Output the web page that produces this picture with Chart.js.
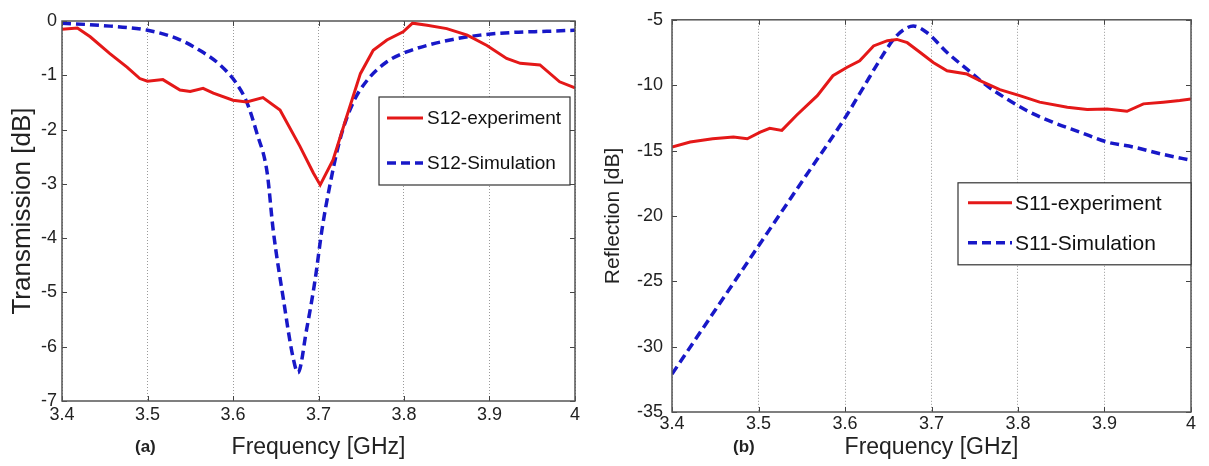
<!DOCTYPE html>
<html>
<head>
<meta charset="utf-8">
<script src="https://cdn.jsdelivr.net/npm/chart.js@4.4.1/dist/chart.umd.min.js"></script>
<style>
html, body { margin: 0; padding: 0; background: #fff; }
#wrap { position: relative; width: 1209px; height: 466px; overflow: hidden; font-family: "Liberation Sans", Arial, sans-serif; }
.panel { position: absolute; top: 0; height: 466px; }
.tag { position: absolute; font-size: 17px; font-weight: bold; color: #222; }
</style>
</head>
<body>
<div id="wrap">
  <div class="panel" style="left:0;width:595px"><canvas id="chartA"></canvas></div>
  <div class="panel" style="left:595px;width:614px"><canvas id="chartB"></canvas></div>
  <div class="tag" style="left:135px;top:437px">(a)</div>
  <div class="tag" style="left:733px;top:437px">(b)</div>
</div>
<script>
// (a) transmission
const s12ExpFreq = [3.400,3.418,3.433,3.456,3.476,3.491,3.500,3.518,3.538,3.550,3.565,3.577,3.600,3.616,3.635,3.655,3.678,3.694,3.702,3.717,3.733,3.749,3.764,3.780,3.799,3.810,3.827,3.850,3.874,3.897,3.920,3.936,3.959,3.982,4.000];
const s12ExpDb   = [-0.15,-0.13,-0.29,-0.60,-0.85,-1.06,-1.11,-1.08,-1.27,-1.30,-1.24,-1.33,-1.46,-1.49,-1.41,-1.64,-2.30,-2.80,-3.02,-2.56,-1.76,-0.97,-0.54,-0.35,-0.20,-0.04,-0.08,-0.14,-0.26,-0.45,-0.69,-0.78,-0.81,-1.12,-1.23];
const s12SimFreq = [3.400,3.444,3.500,3.534,3.561,3.585,3.604,3.616,3.628,3.640,3.647,3.659,3.670,3.676,3.686,3.696,3.704,3.713,3.725,3.740,3.757,3.780,3.803,3.827,3.857,3.889,3.928,3.967,4.000];
const s12SimDb   = [-0.04,-0.08,-0.17,-0.32,-0.54,-0.81,-1.15,-1.49,-2.07,-2.80,-3.85,-5.13,-6.18,-6.48,-5.69,-4.77,-3.85,-3.05,-2.19,-1.52,-1.09,-0.75,-0.57,-0.45,-0.34,-0.26,-0.21,-0.19,-0.17];

// (b) reflection
const s11ExpFreq = [3.400,3.421,3.447,3.471,3.487,3.502,3.513,3.527,3.544,3.568,3.586,3.602,3.617,3.633,3.649,3.660,3.672,3.687,3.702,3.718,3.741,3.756,3.779,3.802,3.825,3.857,3.880,3.903,3.926,3.945,3.968,3.987,4.000];
const s11ExpDb   = [-14.73,-14.35,-14.10,-13.97,-14.10,-13.60,-13.30,-13.46,-12.30,-10.80,-9.28,-8.65,-8.14,-7.00,-6.60,-6.50,-6.75,-7.50,-8.27,-8.90,-9.15,-9.66,-10.34,-10.80,-11.30,-11.69,-11.86,-11.82,-12.00,-11.43,-11.30,-11.18,-11.05];
const s11SimFreq = [3.400,3.450,3.500,3.550,3.600,3.621,3.640,3.656,3.667,3.679,3.695,3.718,3.741,3.764,3.787,3.810,3.840,3.872,3.903,3.933,3.968,4.000];
const s11SimDb   = [-32.10,-27.20,-22.30,-17.40,-12.50,-10.20,-8.10,-6.50,-5.80,-5.48,-5.99,-7.50,-8.78,-10.04,-11.05,-11.94,-12.83,-13.60,-14.35,-14.73,-15.30,-15.74];

const freqMin = 3.4, freqMax = 4.0, freqStep = 0.1;

Chart.defaults.font.family = '"Liberation Sans", Arial, sans-serif';
Chart.defaults.color = '#222';

const RED = 'rgb(228, 24, 24)';
const BLUE = 'rgb(24, 24, 200)';

function toPoints(xs, ys) {
  return xs.map((x, i) => ({ x: x, y: ys[i] }));
}

// box round the axes, inward ticks (matlab style) and the legend inside the plot
const frame = {
  id: 'frame',
  afterDatasetsDraw(chart, args, opts) {
    const { ctx, chartArea: a, scales } = chart;
    const sx = scales.x, sy = scales.y;
    ctx.save();
    ctx.strokeStyle = '#444';
    ctx.lineWidth = 1;
    ctx.beginPath();
    sx.ticks.forEach(t => {
      const px = Math.round(sx.getPixelForValue(t.value)) + 0.5;
      ctx.moveTo(px, a.bottom); ctx.lineTo(px, a.bottom - 5);
      ctx.moveTo(px, a.top); ctx.lineTo(px, a.top + 5);
    });
    sy.ticks.forEach(t => {
      const py = Math.round(sy.getPixelForValue(t.value)) + 0.5;
      ctx.moveTo(a.left, py); ctx.lineTo(a.left + 5, py);
      ctx.moveTo(a.right, py); ctx.lineTo(a.right - 5, py);
    });
    ctx.stroke();
    ctx.strokeStyle = '#555';
    ctx.lineWidth = 1.5;
    ctx.strokeRect(a.left, a.top, a.right - a.left, a.bottom - a.top);

    // legend
    const b = opts.box;
    const bx = a.left + b.x, by = a.top + b.y;
    ctx.fillStyle = '#fff';
    ctx.fillRect(bx, by, b.w, b.h);
    ctx.strokeStyle = '#333';
    ctx.lineWidth = 1.2;
    ctx.strokeRect(bx, by, b.w, b.h);
    ctx.font = b.font + 'px "Liberation Sans", Arial, sans-serif';
    ctx.textBaseline = 'middle';
    chart.data.datasets.forEach((ds, i) => {
      const ry = by + b.rows[i];
      ctx.strokeStyle = ds.borderColor;
      ctx.lineWidth = ds.borderWidth;
      ctx.setLineDash(ds.borderDash || []);
      ctx.beginPath();
      ctx.moveTo(bx + b.line[0], ry);
      ctx.lineTo(bx + b.line[1], ry);
      ctx.stroke();
      ctx.setLineDash([]);
      ctx.fillStyle = '#111';
      ctx.fillText(ds.label, bx + b.textX, ry + 1);
    });
    ctx.restore();
  }
};

function makeChart(id, sets, cfg) {
  return new Chart(document.getElementById(id), {
    type: 'line',
    plugins: [frame],
    data: {
      datasets: sets.map(s => ({
        label: s.label,
        data: s.data,
        borderColor: s.color,
        borderWidth: s.width,
        borderDash: s.dash,
        pointRadius: 0,
        fill: false,
        tension: s.smooth ? 0.4 : 0,
        cubicInterpolationMode: s.smooth ? 'monotone' : 'default'
      }))
    },
    options: {
      responsive: true,
      maintainAspectRatio: false,
      animation: false,
      layout: { padding: cfg.pad },
      plugins: {
        legend: { display: false },
        tooltip: { enabled: false },
        frame: { box: cfg.legend }
      },
      scales: {
        x: {
          type: 'linear',
          min: freqMin, max: freqMax,
          afterFit: sc => { sc.height = cfg.xHeight; },
          ticks: {
            stepSize: freqStep,
            padding: cfg.xTickPad,
            font: { size: 18 },
            color: '#222',
            maxRotation: 0,
            callback: v => String(Number(v.toFixed(1)))
          },
          grid: { display: true, drawTicks: false, color: '#9a9a9a', lineWidth: 1 },
          border: { display: false, dash: [1, 2] },
          title: { display: true, text: 'Frequency [GHz]', font: { size: 23 }, color: '#222', padding: { top: 0, bottom: 5 } }
        },
        y: {
          min: cfg.yMin, max: cfg.yMax,
          afterFit: sc => { sc.width = cfg.yWidth; },
          ticks: { stepSize: cfg.yStep, padding: cfg.yTickPad, font: { size: 18 }, color: '#222' },
          grid: { display: false, drawTicks: false },
          border: { display: false },
          title: { display: true, text: cfg.yTitle, font: { size: cfg.yTitleSize }, color: '#222', padding: { top: cfg.yTitlePad, bottom: 0 } }
        }
      }
    }
  });
}

makeChart('chartA', [
  { label: 'S12-experiment', data: toPoints(s12ExpFreq, s12ExpDb), color: RED, width: 3, dash: [] },
  { label: 'S12-Simulation', data: toPoints(s12SimFreq, s12SimDb), color: BLUE, width: 3.5, dash: [9, 5], smooth: true }
], {
  pad: { left: 0, top: 21, right: 20, bottom: 0 },
  xHeight: 65, yWidth: 62,
  xTickPad: 3, yTickPad: 5,
  yMin: -7, yMax: 0, yStep: 1,
  yTitle: 'Transmission [dB]', yTitleSize: 26, yTitlePad: 7,
  legend: { x: 317, y: 76, w: 191, h: 88, font: 19, rows: [21, 66], line: [8, 44], textX: 48 }
});

makeChart('chartB', [
  { label: 'S11-experiment', data: toPoints(s11ExpFreq, s11ExpDb), color: RED, width: 3, dash: [] },
  { label: 'S11-Simulation', data: toPoints(s11SimFreq, s11SimDb), color: BLUE, width: 3.5, dash: [9, 5], smooth: true }
], {
  pad: { left: 0, top: 17, right: 18, bottom: 0 },
  xHeight: 54, yWidth: 77,
  xTickPad: 1, yTickPad: 9,
  yMin: -35, yMax: -5, yStep: 5,
  yTitle: 'Reflection [dB]', yTitleSize: 21, yTitlePad: 6,
  legend: { x: 286, y: 163, w: 233, h: 82, font: 21, rows: [20, 60], line: [10, 54], textX: 57 }
});
</script>
</body>
</html>
